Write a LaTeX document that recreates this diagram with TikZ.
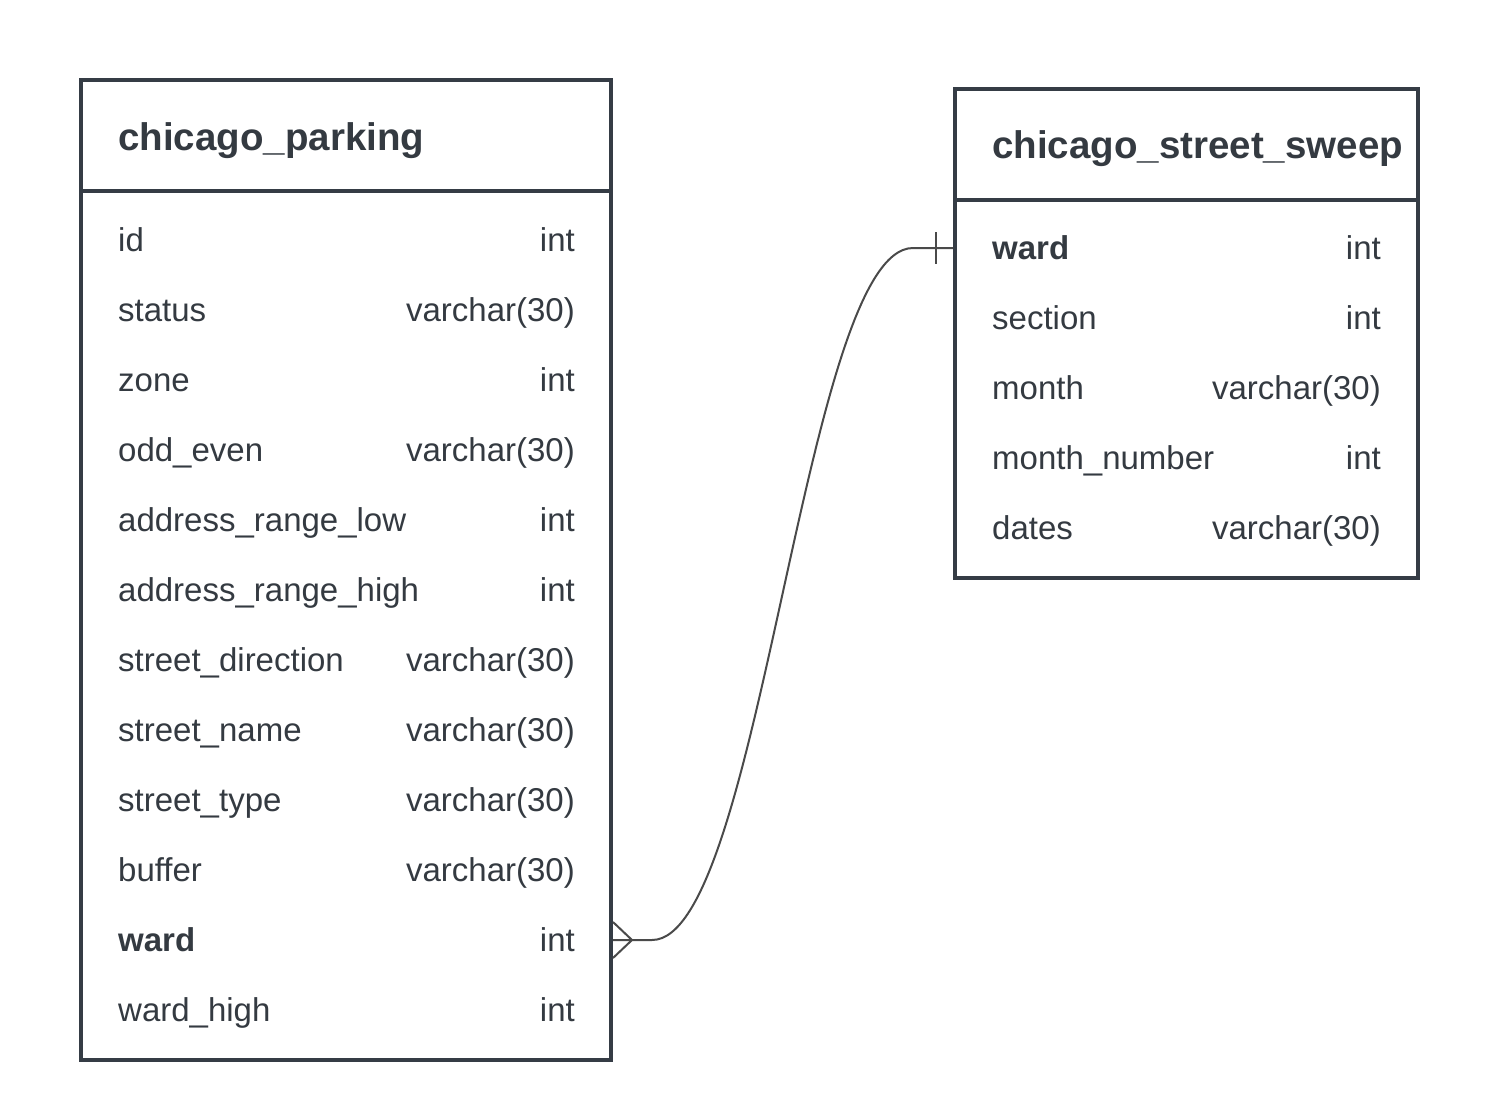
\documentclass[tikz,border=0pt]{standalone}
\usepackage{fontspec}
\setmainfont{Liberation Sans}
\usetikzlibrary{calc}
\definecolor{boxc}{HTML}{353C45}
\definecolor{txtc}{HTML}{343A41}
\definecolor{connc}{HTML}{4A4A4A}
\tikzset{
  tablebox/.style={draw=boxc, line width=4pt, rectangle, inner sep=0pt, fill=white},
  divider/.style={draw=boxc, line width=4pt},
  titletext/.style={inner sep=0pt, text=txtc, font=\fontsize{38.5}{46}\selectfont\bfseries},
  rowtext/.style={inner sep=0pt, text=txtc, font=\fontsize{33}{40}\selectfont},
  rowbold/.style={inner sep=0pt, text=txtc, font=\fontsize{33}{40}\selectfont\bfseries},
  conn/.style={draw=connc, line width=2pt},
}
\begin{document}
\begin{tikzpicture}[x=1pt,y=-1pt]
\useasboundingbox (0,0) rectangle (1492,1104);
% chicago_parking
\node[tablebox, minimum width=530pt, minimum height=980pt] (cp) at (346,570) {};
\draw[divider] (cp.west |- 0,191) -- (cp.east |- 0,191);
\node[titletext, anchor=base west] (cptitle) at (118,150) {chicago\_parking};
\foreach \nm/\ty/\st [count=\i] in {
  id/int/rowtext,
  status/varchar(30)/rowtext,
  zone/int/rowtext,
  odd\_even/varchar(30)/rowtext,
  address\_range\_low/int/rowtext,
  address\_range\_high/int/rowtext,
  street\_direction/varchar(30)/rowtext,
  street\_name/varchar(30)/rowtext,
  street\_type/varchar(30)/rowtext,
  buffer/varchar(30)/rowtext,
  ward/int/rowbold,
  ward\_high/int/rowtext}{
  \coordinate (cprow\i) at (346,{240+70*(\i-1)});
  \node[\st, anchor=base west] (cpn\i) at (118,{251+70*(\i-1)}) {\nm};
  \node[rowtext, anchor=base east] (cpt\i) at (575,{251+70*(\i-1)}) {\ty};
}
% chicago_street_sweep
\node[tablebox, minimum width=463pt, minimum height=489pt] (ss) at (1186.5,333.5) {};
\draw[divider] (ss.west |- 0,200) -- (ss.east |- 0,200);
\node[titletext, anchor=base west] (sstitle) at (992,158) {chicago\_street\_sweep};
\foreach \nm/\ty/\st [count=\i] in {
  ward/int/rowbold,
  section/int/rowtext,
  month/varchar(30)/rowtext,
  month\_number/int/rowtext,
  dates/varchar(30)/rowtext}{
  \coordinate (ssrow\i) at (1186.5,{248+70*(\i-1)});
  \node[\st, anchor=base west] (ssn\i) at (992,{259+70*(\i-1)}) {\nm};
  \node[rowtext, anchor=base east] (sst\i) at (1381,{259+70*(\i-1)}) {\ty};
}
% connector
\coordinate (cstart) at ($(cp.east |- cprow11)+(39,0)$);
\coordinate (cend) at ($(ss.west |- ssrow1)+(-40,0)$);
\draw[conn] (cp.east |- cprow11) -- (cstart)
  .. controls ($(cstart)+(109,0)$) and ($(cend)+(-109,0)$) .. (cend)
  -- (ss.west |- ssrow1);
% crow's foot (many)
\draw[conn] ($(cp.east |- cprow11)+(0,-18)$) -- ($(cp.east |- cprow11)+(19,0)$) -- ($(cp.east |- cprow11)+(0,18)$);
% one bar
\draw[conn] ($(ss.west |- ssrow1)+(-17,-16)$) -- ($(ss.west |- ssrow1)+(-17,16)$);
\end{tikzpicture}
\end{document}
